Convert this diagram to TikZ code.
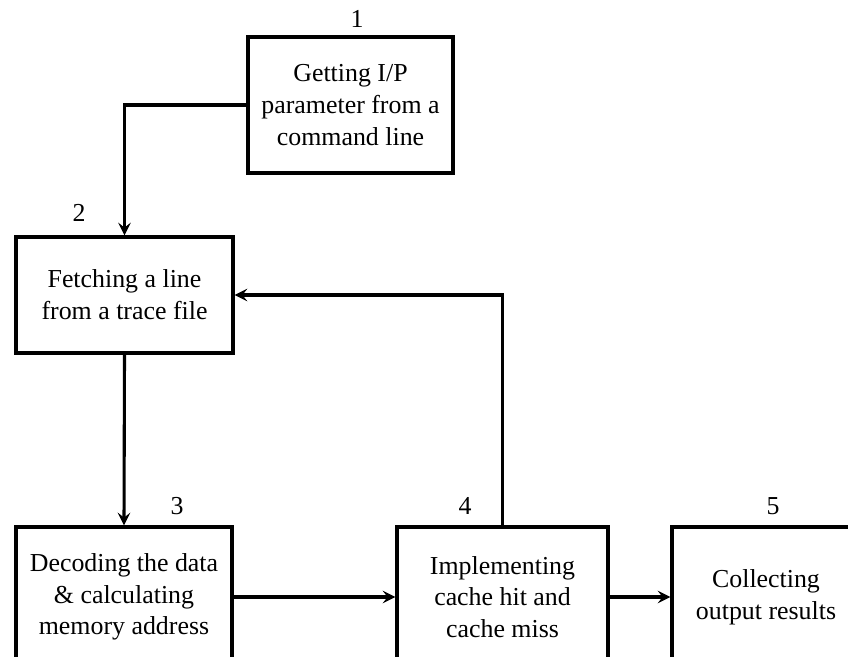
\documentclass[tikz,border=0pt]{standalone}
\usepackage{fontspec}
\setmainfont{Liberation Serif}
\usepackage{tikz}
\usetikzlibrary{arrows.meta,positioning}

\begin{document}
\begin{tikzpicture}[x=0.025cm,y=-0.025cm,->,>={Stealth[length=9pt,width=9pt,inset=3.5pt]},
  line width=2.2pt,
  box/.style={rectangle,draw,line width=2.4pt,align=center,inner sep=0pt,
    font=\fontsize{18.4}{22.6}\selectfont},
  num/.style={font=\fontsize{18.4}{22.6}\selectfont}]

  \useasboundingbox (0,0) rectangle (848,657);
  \clip (0,0) rectangle (848,657);

  \node[box,minimum width=205*0.025cm,minimum height=136*0.025cm] (1) at (350.5,105)
    {Getting I/P\\parameter from a\\command line};
  \node[box,minimum width=217*0.025cm,minimum height=116*0.025cm] (2) at (124.5,295)
    {Fetching a line\\from a trace file};
  \node[box,minimum width=216*0.025cm,minimum height=140*0.025cm] (3) at (124,597)
    {Decoding the data\\\& calculating\\memory address};
  \node[box,minimum width=211*0.025cm,minimum height=140*0.025cm] (4) at (502.5,597)
    {Implementing\\cache hit and\\cache miss};
  \node[box,minimum width=188*0.025cm,minimum height=140*0.025cm] (5) at (766,597)
    {Collecting\\output results};

  % step numbers
  \node[num] (n1) at (357,19) {1};
  \node[num] (n2) at (79,213) {2};
  \node[num] (n3) at (177,506) {3};
  \node[num] (n4) at (465,506) {4};
  \node[num] (n5) at (773,506) {5};

  \draw (1.west) -| (2.north);
  \draw (2.south) -- (3.north);
  \draw (3.east) -- (4.west);
  \draw (4.east) -- (5.west);
  \draw (4.north) |- (2.east);
\end{tikzpicture}
\end{document}
